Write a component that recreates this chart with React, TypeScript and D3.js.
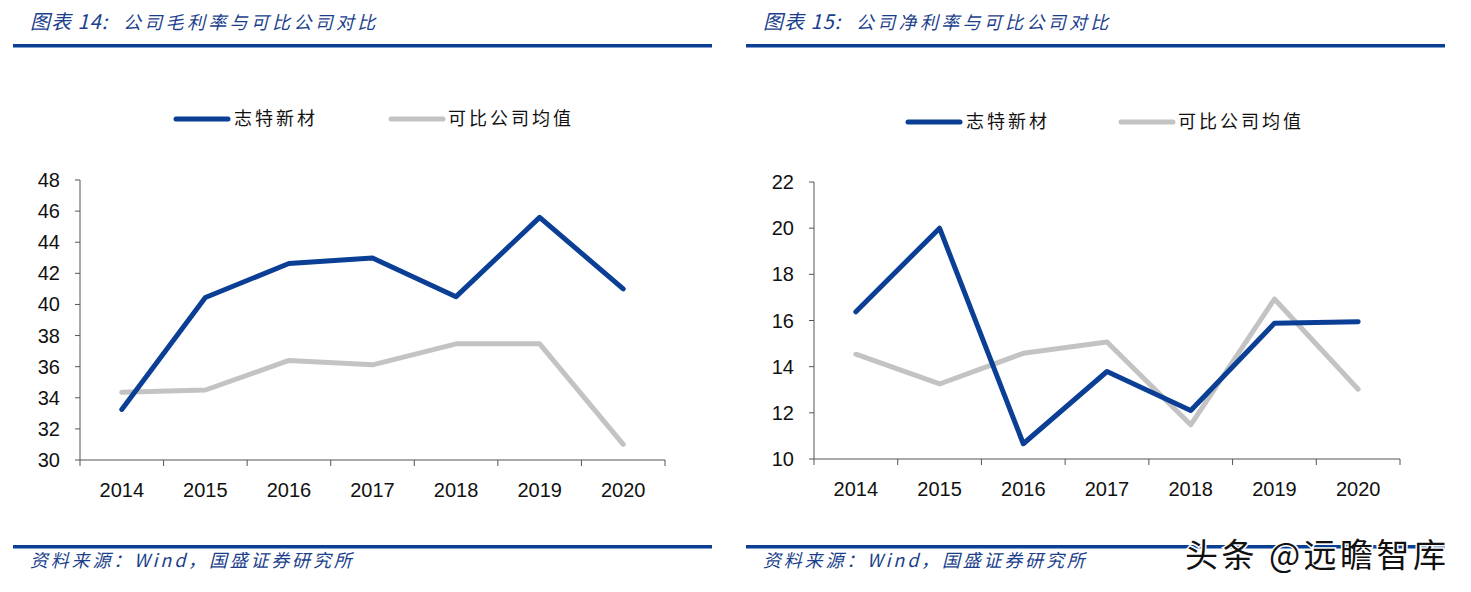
import React from "react";
import * as d3 from "d3";

const years = ["2014", "2015", "2016", "2017", "2018", "2019", "2020"];
const grossCompany = [33.25, 40.45, 42.63, 42.99, 40.5, 45.6, 41.0];
const grossPeers = [34.35, 34.5, 36.4, 36.12, 37.47, 37.47, 31.0];
const netCompany = [16.38, 20.0, 10.66, 13.79, 12.1, 15.88, 15.95];
const netPeers = [14.54, 13.25, 14.58, 15.07, 11.48, 16.93, 13.02];
const grossTicks = [30, 32, 34, 36, 38, 40, 42, 44, 46, 48];
const netTicks = [10, 12, 14, 16, 18, 20, 22];
const seriesNames = ["志特新材", "可比公司均值"];

const BLUE = "#0a3f95";
const GRAY = "#c3c3c3";
const TXT_BLUE = "#1b3f8c";
const CJK = "'Noto Sans CJK SC', 'Noto Sans', sans-serif";
const NUM = "'Liberation Sans Narrow', 'Liberation Sans', Arial, sans-serif";

type PanelProps = {
  x0: number;
  x1: number;
  yTop: number;
  yBottom: number;
  domain: [number, number];
  ticks: number[];
  a: number[];
  b: number[];
  titleNum: string;
  titleText: string;
  ruleX0: number;
  ruleX1: number;
  titleX: number;
  legendY: number;
  legendX: number;
  legendX2: number;
};

function Panel(p: PanelProps) {
  const x = d3.scaleBand<string>().domain(years).range([p.x0, p.x1]).padding(0);
  const y = d3.scaleLinear().domain(p.domain).range([p.yBottom, p.yTop]);
  const cx = (d: string) => (x(d) as number) + x.bandwidth() / 2;
  const line = d3
    .line<number>()
    .x((_, i) => cx(years[i]))
    .y((v) => y(v));
  const boundaries = years.map((d) => x(d) as number).concat([p.x1]);
  return (
    <g>
      {/* title */}
      <text x={p.titleX} y={29} fill={TXT_BLUE} fontFamily={CJK} fontStyle="italic">
        <tspan fontSize={20} letterSpacing={1}>{p.titleNum}</tspan>
        <tspan x={p.titleX + 93} fontSize={18} letterSpacing={3.3}>{p.titleText}</tspan>
      </text>
      <rect x={p.ruleX0} y={44} width={p.ruleX1 - p.ruleX0} height={3.5} fill={BLUE} />
      {/* legend */}
      <line x1={p.legendX} x2={p.legendX + 52} y1={p.legendY} y2={p.legendY} stroke={BLUE} strokeWidth={5} strokeLinecap="round" />
      <text x={p.legendX + 58} y={p.legendY} dy="0.35em" fontFamily={CJK} fontSize={18} letterSpacing={3} fill="#111">
        {seriesNames[0]}
      </text>
      <line x1={p.legendX2} x2={p.legendX2 + 52} y1={p.legendY} y2={p.legendY} stroke={GRAY} strokeWidth={5} strokeLinecap="round" />
      <text x={p.legendX2 + 57} y={p.legendY} dy="0.35em" fontFamily={CJK} fontSize={18} letterSpacing={3} fill="#111">
        {seriesNames[1]}
      </text>
      {/* axes */}
      <line x1={p.x0} x2={p.x0} y1={p.yTop} y2={p.yBottom} stroke="#555" strokeWidth={1} />
      <line x1={p.x0} x2={p.x1} y1={p.yBottom} y2={p.yBottom} stroke="#555" strokeWidth={1} />
      {p.ticks.map((t) => (
        <g key={t}>
          <line x1={p.x0 - 5} x2={p.x0} y1={y(t)} y2={y(t)} stroke="#555" />
          <text x={p.x0 - 20} y={y(t)} dy="0.35em" textAnchor="end" fontFamily={NUM} fontSize={20} fill="#111">
            {t}
          </text>
        </g>
      ))}
      {boundaries.map((bx, i) => (
        <line key={i} x1={bx} x2={bx} y1={p.yBottom} y2={p.yBottom + 6} stroke="#555" />
      ))}
      {years.map((d) => (
        <text key={d} x={cx(d)} y={p.yBottom + 30} dy="0.35em" textAnchor="middle" fontFamily={NUM} fontSize={20} fill="#111">
          {d}
        </text>
      ))}
      {/* series */}
      <path d={line(p.b) || ""} fill="none" stroke={GRAY} strokeWidth={5} strokeLinejoin="round" strokeLinecap="round" />
      <path d={line(p.a) || ""} fill="none" stroke={BLUE} strokeWidth={5} strokeLinejoin="round" strokeLinecap="round" />
      {/* footer */}
      <rect x={p.ruleX0} y={545} width={p.ruleX1 - p.ruleX0} height={3.5} fill={BLUE} />
      <text x={p.titleX} y={567} fill={TXT_BLUE} fontFamily={CJK} fontSize={18} letterSpacing={2.8} fontStyle="italic">
        资料来源：Wind，国盛证券研究所
      </text>
    </g>
  );
}

export default function App() {
  return (
    <svg
      width={1471}
      height={592}
      style={{ position: "absolute", left: 0, top: 0, background: "#fff" }}
    >
      <rect width={1471} height={592} fill="#fff" />
      <Panel
        x0={80}
        x1={665}
        yTop={180}
        yBottom={460}
        domain={[30, 48]}
        ticks={grossTicks}
        a={grossCompany}
        b={grossPeers}
        titleNum="图表 14:"
        titleText="公司毛利率与可比公司对比"
        ruleX0={13}
        ruleX1={712}
        titleX={30}
        legendY={119}
        legendX={176}
        legendX2={391}
      />
      <Panel
        x0={814}
        x1={1400}
        yTop={182}
        yBottom={459}
        domain={[10, 22]}
        ticks={netTicks}
        a={netCompany}
        b={netPeers}
        titleNum="图表 15:"
        titleText="公司净利率与可比公司对比"
        ruleX0={746}
        ruleX1={1445}
        titleX={763}
        legendY={122}
        legendX={908}
        legendX2={1121}
      />
      <text
        x={1185}
        y={567}
        fontFamily={CJK}
        fontSize={33}
        letterSpacing={3.5}
        fill="#111"
        stroke="#fff"
        strokeWidth={3}
        paintOrder="stroke"
      >
        头条 @远瞻智库
      </text>
    </svg>
  );
}
